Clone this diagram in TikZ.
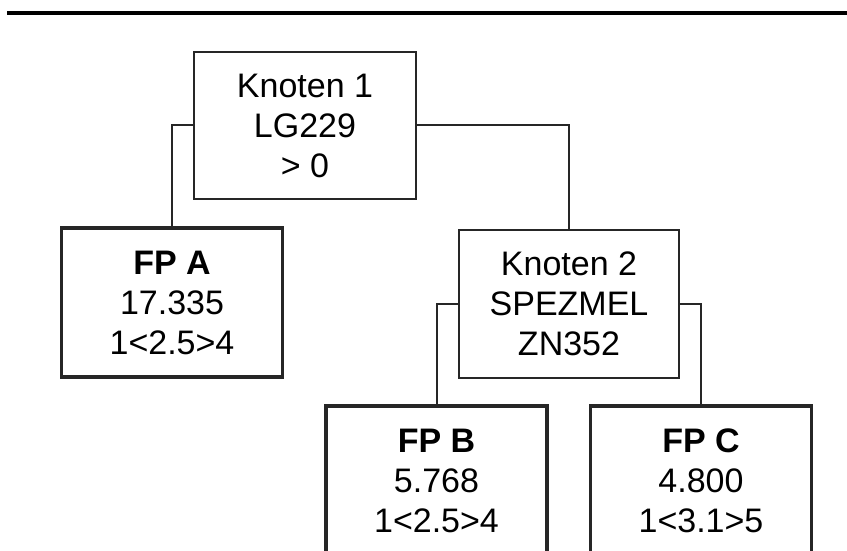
\documentclass[tikz,border=0pt]{standalone}
\usepackage{fontspec}
\setmainfont{Liberation Sans}
\begin{document}
\begin{tikzpicture}[x=1pt,y=-1pt,
  boxbase/.style={draw=black!85,align=center,inner sep=0pt,text=black,
    font=\fontsize{34}{40}\selectfont},
  knoten/.style={boxbase,line width=2pt,minimum width=222pt,minimum height=147pt},
  leaf/.style={boxbase,line width=3.5pt,minimum width=221pt,minimum height=149pt},
  conn/.style={draw=black!85,line width=2pt}]
\useasboundingbox (0,0) rectangle (847,551);
\clip (0,0) rectangle (847,551);
\coordinate (tl) at (7,13);
\coordinate (tr) at (847,13);
\draw[line width=3.5pt] (tl) -- (tr);
\node[knoten] (k1) at (305,125.5) {Knoten 1\\LG229\\> 0};
\node[leaf] (fpa) at (172,302.5) {\textbf{FP A}\\17.335\\1<2.5>4};
\node[knoten,minimum width=220pt,minimum height=148pt] (k2) at (569,304) {Knoten 2\\SPEZMEL\\ZN352};
\node[leaf] (fpb) at (436.5,480.5) {\textbf{FP B}\\5.768\\1<2.5>4};
\node[leaf] (fpc) at (701,480.5) {\textbf{FP C}\\4.800\\1<3.1>5};
\draw[conn] (k1.west) -| (fpa.north);
\draw[conn] (k1.east) -| (k2.north);
\draw[conn] (k2.west) -| (fpb.north);
\draw[conn] (k2.east) -| (fpc.north);
\end{tikzpicture}
\end{document}
